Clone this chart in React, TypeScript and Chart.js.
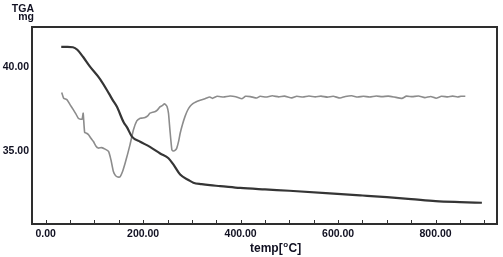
import React, { useEffect, useRef } from "react";
import { Chart, registerables } from "chart.js";

Chart.register(...registerables);

// TGA mass curve (mg) vs temperature (°C)
const tgaTemp = [32, 45, 56, 65, 77, 91, 112, 130, 138, 146, 160, 167, 177, 194, 214, 235, 252, 262, 276, 293, 303, 320, 337, 358, 399, 450, 500, 583, 650, 700, 750, 800, 850, 895];
const tgaMass = [41.17, 41.17, 41.15, 41.0, 40.57, 40.0, 39.25, 38.4, 38.0, 37.63, 36.7, 36.4, 35.85, 35.55, 35.24, 34.85, 34.57, 34.2, 33.6, 33.28, 33.12, 33.03, 32.97, 32.92, 32.81, 32.72, 32.64, 32.49, 32.36, 32.26, 32.15, 32.03, 31.97, 31.93];

// DTA-type signal (plotted on the same axis)
const dtaTemp = [33, 37, 44, 50, 57, 62, 67, 72, 75, 77, 80, 84, 88, 93, 98, 103, 108, 115, 122, 129, 134, 139, 143, 146, 150, 153, 158, 163, 168, 173, 180, 187, 194, 199, 204, 210, 214, 220, 225, 230, 235, 240, 243, 246, 249, 252, 255, 259, 262, 266, 269, 273, 276, 281, 286, 291, 296, 302, 308, 317, 327, 337, 342, 352, 365, 378, 390, 403, 410, 420, 433, 440, 452, 465, 478, 490, 505, 515, 528, 540, 553, 565, 578, 590, 604, 615, 628, 640, 652, 665, 678, 690, 703, 715, 731, 740, 752, 765, 778, 790, 801, 812, 825, 835, 845, 852, 861];
const dtaSignal = [38.46, 38.13, 38.03, 37.75, 37.44, 37.2, 36.94, 36.88, 36.9, 37.24, 36.1, 36.05, 35.96, 35.75, 35.56, 35.3, 35.17, 35.2, 35.11, 34.97, 34.47, 33.78, 33.55, 33.48, 33.45, 33.48, 33.8, 34.27, 34.8, 35.36, 36.24, 36.78, 36.94, 36.95, 36.98, 37.1, 37.24, 37.3, 37.34, 37.45, 37.63, 37.7, 37.79, 37.75, 37.63, 37.24, 36.24, 35.06, 35.0, 35.05, 35.17, 35.6, 36.05, 36.6, 37.05, 37.4, 37.63, 37.8, 37.9, 38.0, 38.1, 38.2, 38.12, 38.24, 38.2, 38.26, 38.22, 38.1, 38.24, 38.22, 38.14, 38.24, 38.2, 38.27, 38.21, 38.25, 38.15, 38.24, 38.2, 38.26, 38.21, 38.25, 38.19, 38.24, 38.14, 38.23, 38.27, 38.2, 38.24, 38.2, 38.26, 38.22, 38.25, 38.2, 38.12, 38.25, 38.22, 38.26, 38.16, 38.23, 38.13, 38.24, 38.21, 38.25, 38.2, 38.24, 38.24];

const xTickValues = [0, 200, 400, 600, 800];
const xMinorTickValues = [0, 50, 100, 150, 200, 250, 300, 350, 400, 450, 500, 550, 600, 650, 700, 750, 800, 850, 900];
const yTickValues = [35, 40];

const FONT = "'Liberation Sans', Arial, sans-serif";
const TEXT_COLOR = "#111122";

const framePlugin = {
  id: "frameAndLabels",
  afterDraw(chart: any) {
    const { ctx, chartArea } = chart;
    const { left, top, right, bottom } = chartArea;
    const xs = chart.scales.x;
    ctx.save();
    // frame
    ctx.strokeStyle = "#2e2e2e";
    ctx.lineWidth = 2;
    ctx.strokeRect(left, top, right - left, bottom - top);
    // inward minor ticks on bottom axis
    ctx.lineWidth = 1;
    ctx.strokeStyle = "#333";
    for (const v of xMinorTickValues) {
      const px = Math.round(xs.getPixelForValue(v)) + 0.5;
      ctx.beginPath();
      ctx.moveTo(px, bottom);
      ctx.lineTo(px, bottom - 4);
      ctx.stroke();
    }
    // y axis unit label
    ctx.fillStyle = TEXT_COLOR;
    ctx.textAlign = "right";
    ctx.textBaseline = "alphabetic";
    ctx.font = `bold 10.5px ${FONT}`;
    ctx.fillText("TGA", 34, 12);
    ctx.fillText("mg", 34, 19.5);
    // x axis title with superscript o
    ctx.textAlign = "left";
    ctx.font = `bold 12px ${FONT}`;
    let x = 250;
    const base = 252;
    const p1 = "temp[";
    ctx.fillText(p1, x, base);
    x += ctx.measureText(p1).width + 0.5;
    ctx.font = `bold 8px ${FONT}`;
    ctx.fillText("o", x, base - 5);
    x += ctx.measureText("o").width + 0.5;
    ctx.font = `bold 12px ${FONT}`;
    ctx.fillText("C]", x, base);
    ctx.restore();
  },
};

export default function App() {
  const canvasRef = useRef<HTMLCanvasElement | null>(null);

  useEffect(() => {
    document.body.style.margin = "0";
    const canvas = canvasRef.current;
    if (!canvas) return;
    const chart = new Chart(canvas, {
      type: "scatter",
      data: {
        datasets: [
          {
            label: "TGA",
            data: tgaTemp.map((t, i) => ({ x: t, y: tgaMass[i] })),
            showLine: true,
            borderColor: "#353535",
            borderWidth: 2.2,
            pointRadius: 0,
            cubicInterpolationMode: "monotone",
          },
          {
            label: "DTA",
            data: dtaTemp.map((t, i) => ({ x: t, y: dtaSignal[i] })),
            showLine: true,
            borderColor: "#8c8c8c",
            borderWidth: 1.6,
            pointRadius: 0,
            tension: 0.15,
          },
        ],
      },
      options: {
        animation: false,
        responsive: false,
        devicePixelRatio: 1,
        layout: { padding: { top: 27, right: 6, left: 0, bottom: 0 } },
        plugins: { legend: { display: false }, tooltip: { enabled: false } },
        scales: {
          x: {
            type: "linear",
            min: -28,
            max: 926,
            afterBuildTicks: (s: any) => {
              s.ticks = xTickValues.map((v) => ({ value: v }));
            },
            afterFit: (s: any) => {
              s.height = 33;
            },
            ticks: {
              autoSkip: false,
              maxRotation: 0,
              padding: 4,
              color: TEXT_COLOR,
              font: { family: FONT, size: 10.5, weight: "bold" },
              callback: (v: any) => Number(v).toFixed(2),
            },
            grid: { display: false, drawTicks: false },
            border: { display: false },
          },
          y: {
            type: "linear",
            min: 30.67,
            max: 42.35,
            afterBuildTicks: (s: any) => {
              s.ticks = yTickValues.map((v) => ({ value: v }));
            },
            afterFit: (s: any) => {
              s.width = 32;
            },
            ticks: {
              autoSkip: false,
              padding: 3,
              color: TEXT_COLOR,
              font: { family: FONT, size: 10.5, weight: "bold" },
              callback: (v: any) => Number(v).toFixed(2),
            },
            grid: { display: false, drawTicks: false },
            border: { display: false },
          },
        },
      },
      plugins: [framePlugin],
    });
    return () => chart.destroy();
  }, []);

  return (
    <div style={{ position: "absolute", left: 0, top: 0, width: 503, height: 257, background: "#fff" }}>
      <canvas ref={canvasRef} width={503} height={257} style={{ display: "block" }} />
    </div>
  );
}
